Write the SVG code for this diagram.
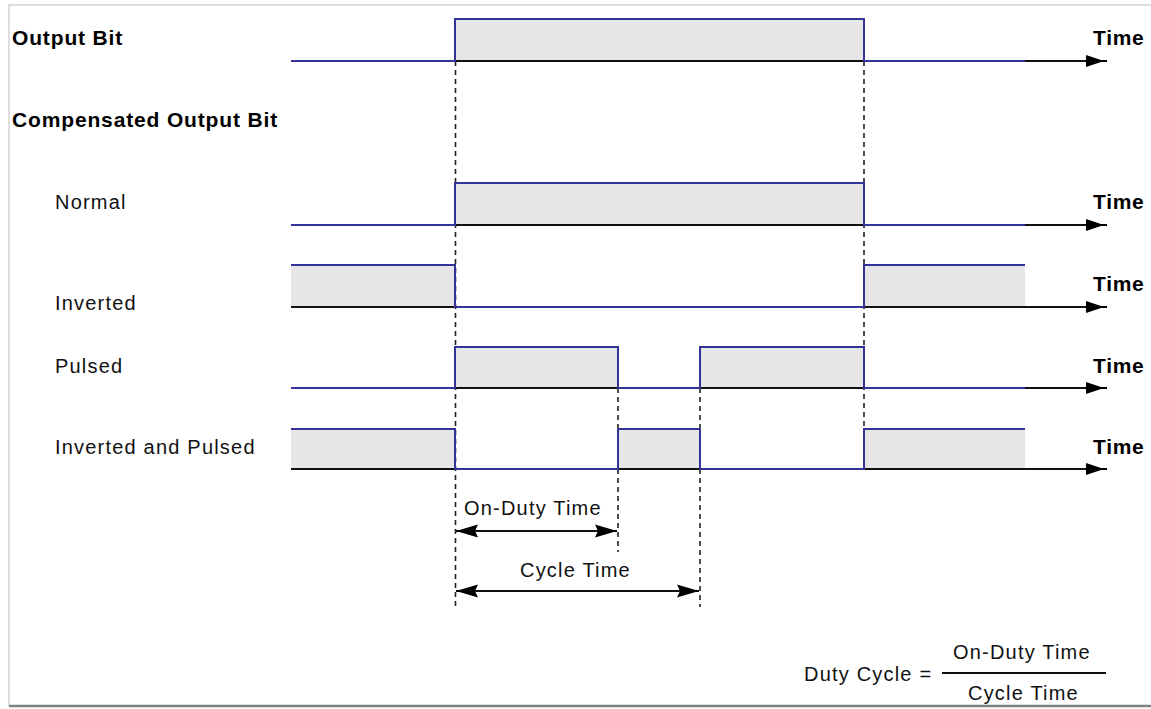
<svg xmlns="http://www.w3.org/2000/svg" width="1151" height="709" viewBox="0 0 1151 709">
<style>
.lbl{font-family:"Liberation Sans",Arial,sans-serif;font-size:20px;letter-spacing:1.2px;fill:#111}
.hdr{font-family:"Liberation Sans",Arial,sans-serif;font-size:21px;font-weight:bold;letter-spacing:0.85px;fill:#000}
.time{font-family:"Liberation Sans",Arial,sans-serif;font-size:21px;font-weight:bold;letter-spacing:0.7px;fill:#000}
.fill{fill:#e6e6e6;stroke:none}
.axis{stroke:#111;stroke-width:2;fill:none;marker-end:url(#ax)}
.trace{stroke:#33339a;stroke-width:2;fill:none}
.dash{stroke:#222;stroke-width:1.6;stroke-dasharray:5 4;fill:none}
.dim{stroke:#111;stroke-width:2;fill:none;marker-start:url(#ds);marker-end:url(#de)}
</style>
<defs>
<marker id="ax" markerUnits="userSpaceOnUse" markerWidth="24" markerHeight="14" refX="4" refY="7" orient="auto" viewBox="0 0 24 14">
<path d="M0,1 L15,6 L21,6 L21,8 L15,8 L0,13 Z" fill="#000"/>
</marker>
<marker id="de" markerUnits="userSpaceOnUse" markerWidth="24" markerHeight="16" refX="22" refY="8" orient="auto" viewBox="0 0 24 16">
<path d="M0,1.5 L22,8 L0,14.5 L3,8 Z" fill="#000"/>
</marker>
<marker id="ds" markerUnits="userSpaceOnUse" markerWidth="24" markerHeight="16" refX="1" refY="8" orient="auto" viewBox="0 0 24 16">
<path d="M23,1.5 L1,8 L23,14.5 L20,8 Z" fill="#000"/>
</marker>
</defs>
<rect x="0" y="0" width="1151" height="709" fill="#fff"/>
<g id="frame">
<line x1="8" y1="5" x2="1151" y2="5" stroke="#dedede" stroke-width="2"/>
<line x1="9" y1="5" x2="9" y2="706" stroke="#dedede" stroke-width="2"/>
<line x1="9" y1="706" x2="1151" y2="706" stroke="#808080" stroke-width="2.5"/>
</g>
<g id="connectors">
<line class="dash" x1="455.5" y1="61" x2="455.5" y2="607"/>
<line class="dash" x1="864" y1="61" x2="864" y2="469"/>
<line class="dash" x1="618" y1="388" x2="618" y2="552"/>
<line class="dash" x1="700" y1="388" x2="700" y2="607"/>
<line class="dim" x1="456" y1="531" x2="617" y2="531"/>
<line class="dim" x1="456" y1="591" x2="699" y2="591"/>
</g>
<g id="output-bit">
<text class="hdr" x="12" y="45">Output Bit</text>
<rect class="fill" x="455" y="19" width="409" height="42"/>
<line class="axis" x1="291" y1="61" x2="1090" y2="61"/>
<polyline class="trace" points="291,61 455,61 455,19 864,19 864,61 1025,61"/>
<text class="time" x="1093" y="45">Time</text>
</g>
<g id="compensated">
<text class="hdr" x="12" y="127">Compensated Output Bit</text>
</g>
<g id="normal">
<text class="lbl" x="55" y="209">Normal</text>
<rect class="fill" x="455" y="183" width="409" height="42"/>
<line class="axis" x1="291" y1="225" x2="1090" y2="225"/>
<polyline class="trace" points="291,225 455,225 455,183 864,183 864,225 1025,225"/>
<text class="time" x="1093" y="209">Time</text>
</g>
<g id="inverted">
<text class="lbl" x="55" y="310">Inverted</text>
<rect class="fill" x="291" y="265" width="164" height="42"/>
<rect class="fill" x="864" y="265" width="161" height="42"/>
<line class="axis" x1="291" y1="307" x2="1090" y2="307"/>
<polyline class="trace" points="291,265 455,265 455,307 864,307 864,265 1025,265"/>
<text class="time" x="1093" y="291">Time</text>
</g>
<g id="pulsed">
<text class="lbl" x="55" y="373">Pulsed</text>
<rect class="fill" x="455" y="347" width="163" height="41"/>
<rect class="fill" x="700" y="347" width="164" height="41"/>
<line class="axis" x1="291" y1="388" x2="1090" y2="388"/>
<polyline class="trace" points="291,388 455,388 455,347 618,347 618,388 700,388 700,347 864,347 864,388 1025,388"/>
<text class="time" x="1093" y="373">Time</text>
</g>
<g id="inverted-pulsed">
<text class="lbl" x="55" y="454">Inverted and Pulsed</text>
<rect class="fill" x="291" y="429" width="164" height="40"/>
<rect class="fill" x="618" y="429" width="82" height="40"/>
<rect class="fill" x="864" y="429" width="161" height="40"/>
<line class="axis" x1="291" y1="469" x2="1090" y2="469"/>
<polyline class="trace" points="291,429 455,429 455,469 618,469 618,429 700,429 700,469 864,469 864,429 1025,429"/>
<text class="time" x="1093" y="454">Time</text>
</g>
<g id="on-duty-label">
<text class="lbl" x="464" y="515">On-Duty Time</text>
</g>
<g id="cycle-label">
<text class="lbl" x="520" y="577">Cycle Time</text>
</g>
<g id="formula">
<text class="lbl" x="804" y="681">Duty Cycle =</text>
<line x1="942" y1="673" x2="1106" y2="673" stroke="#111" stroke-width="2"/>
<text class="lbl" x="953" y="659">On-Duty Time</text>
<text class="lbl" x="968" y="700">Cycle Time</text>
</g>
</svg>
